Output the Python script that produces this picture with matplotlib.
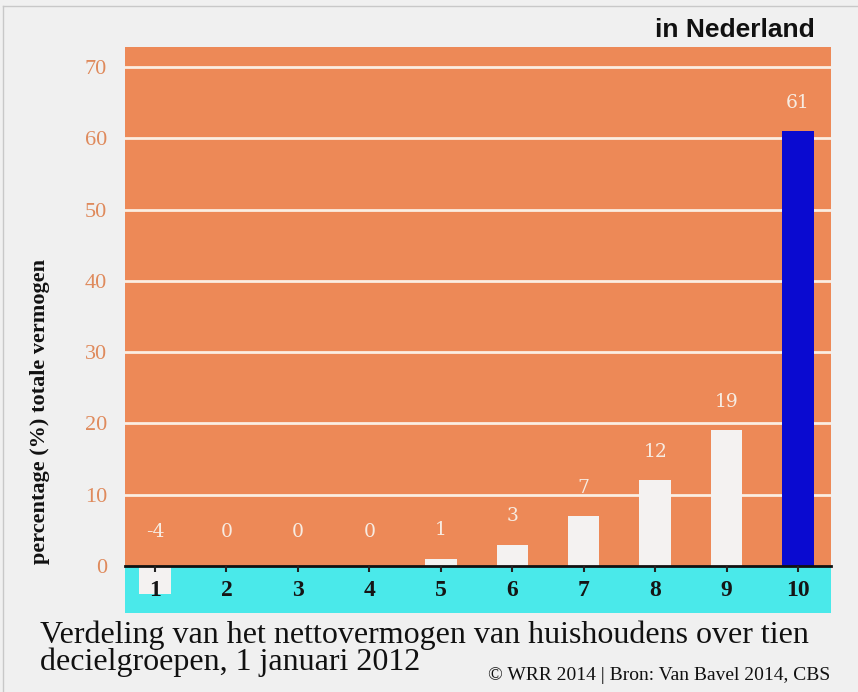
import numpy as np
import matplotlib.pyplot as plt
from matplotlib.lines import Line2D

# nettovermogen per decielgroep (% van totaal)
groepen = ['1', '2', '3', '4', '5', '6', '7', '8', '9', '10']
aandeel = [-4, 0, 0, 0, 1, 3, 7, 12, 19, 61]
balk_kleur = ['#f4f2f1'] * 9 + ['#0a0ad0']
yticks = [0, 10, 20, 30, 40, 50, 60, 70]

oranje = '#ed8957'
cyaan = '#4ae9ea'

fig = plt.figure(figsize=(8.58, 6.92), dpi=100, facecolor='#f0f0f0')
ax = fig.add_axes([0.1457, 0.1142, 0.8228, 0.8179])
ax.set_facecolor(oranje)
ax.set_axisbelow(False)

x = np.arange(1, len(groepen) + 1)
ax.set_xlim(0.58, 10.46)
ax.set_ylim(-6.6, 72.8)

# oranje boven nul, cyaan onder nul
ax.axhspan(0, 72.8, color=oranje, zorder=0, lw=0)
ax.axhspan(-6.6, 0, color=cyaan, zorder=0, lw=0)

for t in yticks[1:]:
    ax.axhline(t, color='#fbeee2', lw=2, zorder=0.5)

ax.bar(x, aandeel, width=0.44, color=balk_kleur, zorder=2)

for xi, v in zip(x, aandeel):
    ax.text(xi, max(v, 0.8) + 4.0, str(v), ha='center', va='center',
            color='#f7ece2', fontsize=13.5, family='DejaVu Serif', zorder=3)

for s in ['left', 'right', 'top']:
    ax.spines[s].set_visible(False)
ax.spines['bottom'].set_position(('data', 0))
ax.spines['bottom'].set_linewidth(2)
ax.spines['bottom'].set_color('#111111')

ax.set_xticks(x)
ax.set_xticklabels(groepen, fontsize=17, fontweight='bold', family='Liberation Serif', color='#151515')
ax.tick_params(axis='x', direction='out', length=4, width=1.5, color='#222222', pad=6)
ax.set_yticks(yticks)
ax.set_yticklabels([str(t) for t in yticks], fontsize=16, family='Liberation Serif', color='#df8a5c')
ax.tick_params(axis='y', length=0, pad=13)

fig.text(40 / 858, 1 - 412 / 692, 'percentage (%) totale vermogen', rotation=90,
         ha='center', va='center', fontsize=16, fontweight='bold', family='Liberation Serif', color='#111111')

fig.text(815 / 858, 1 - 30 / 692, 'in Nederland', ha='right', va='center',
         fontsize=19, fontweight='bold', family='Liberation Sans', color='#111111')

fig.text(40 / 858, 1 - 635 / 692, 'Verdeling van het nettovermogen van huishoudens over tien',
         ha='left', va='center', fontsize=23, family='Liberation Serif', color='#111111')
fig.text(40 / 858, 1 - 662 / 692, 'decielgroepen, 1 januari 2012',
         ha='left', va='center', fontsize=23, family='Liberation Serif', color='#111111')

fig.text(830 / 858, 1 - 676 / 692, '© WRR 2014 | Bron: Van Bavel 2014, CBS', ha='right', va='center',
         fontsize=14, family='Liberation Serif', color='#111111')

# dunne grijze rand links en boven
fig.add_artist(Line2D([3 / 858, 3 / 858], [0, 1 - 6 / 692], transform=fig.transFigure, color='#c8c8c8', lw=1))
fig.add_artist(Line2D([3 / 858, 1], [1 - 6 / 692, 1 - 6 / 692], transform=fig.transFigure, color='#c8c8c8', lw=1))

fig.savefig('out.png', dpi=100, facecolor=fig.get_facecolor())
